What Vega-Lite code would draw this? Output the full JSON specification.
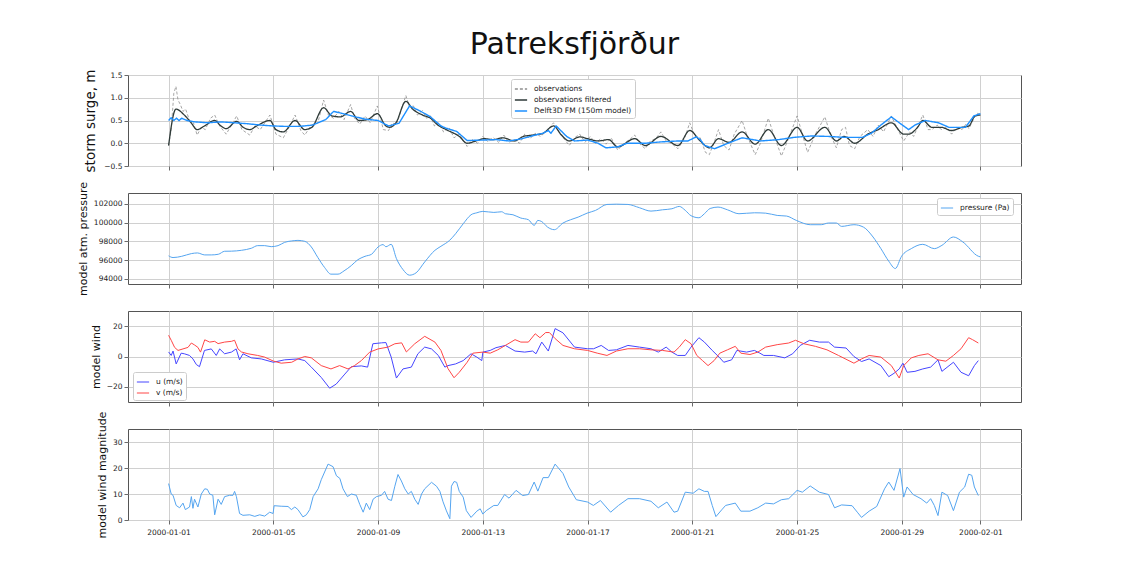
{
  "$schema": "https://vega.github.io/schema/vega-lite/v6.json",
  "background": "white",
  "padding": {"left": 76, "top": 29, "right": 20, "bottom": 10},
  "title": {"text": "Patreksfjörður", "fontSize": 30, "fontWeight": "normal", "font": "DejaVu Sans", "color": "#111111", "anchor": "middle", "frame": "group", "offset": 9},
  "spacing": 27,
  "bounds": "flush",
  "resolve": {"scale": {"color": "independent", "strokeDash": "independent"}, "legend": {"color": "independent", "strokeDash": "independent"}},
  "config": {
    "font": "DejaVu Sans",
    "view": {"stroke": "#555555", "strokeWidth": 1},
    "axis": {"domain": false, "grid": true, "gridColor": "#d0d0d0", "gridWidth": 1, "tickColor": "#444444", "tickSize": 4, "tickWidth": 0.8, "labelFont": "DejaVu Sans", "labelFontSize": 7.5, "labelColor": "#222222", "labelPadding": 2, "labelOverlap": false, "titleFont": "DejaVu Sans", "titleFontWeight": "normal", "titleFontSize": 11, "titleColor": "#111111", "titlePadding": 5},
    "legend": {"labelFont": "DejaVu Sans", "labelFontSize": 7.5, "labelColor": "#222222", "symbolType": "stroke", "symbolSize": 150, "fillColor": "white", "strokeColor": "#cccccc", "padding": 3, "cornerRadius": 2, "rowPadding": 0, "labelOffset": 6, "symbolStrokeWidth": 1.3}
  },
  "datasets": {
    "obs": [
      {"day":0,"value":-0.05},{"day":0.1,"value":0.3},{"day":0.2,"value":1.1},{"day":0.28,"value":1.25},{"day":0.36,"value":0.95},{"day":0.45,"value":0.85},{"day":0.55,"value":0.7},{"day":0.65,"value":0.75},{"day":0.8,"value":0.5},{"day":0.95,"value":0.45},{"day":1.09,"value":0.18},{"day":1.25,"value":0.35},{"day":1.4,"value":0.3},{"day":1.6,"value":0.55},{"day":1.76,"value":0.62},{"day":1.95,"value":0.38},{"day":2.2,"value":0.2},{"day":2.4,"value":0.4},{"day":2.6,"value":0.6},{"day":2.8,"value":0.3},{"day":3.1,"value":0.18},{"day":3.3,"value":0.38},{"day":3.5,"value":0.3},{"day":3.87,"value":0.62},{"day":4.1,"value":0.2},{"day":4.38,"value":0.12},{"day":4.6,"value":0.35},{"day":4.83,"value":0.62},{"day":5.05,"value":0.28},{"day":5.2,"value":0.18},{"day":5.45,"value":0.4},{"day":5.7,"value":0.45},{"day":5.92,"value":0.95},{"day":6.1,"value":0.62},{"day":6.3,"value":0.55},{"day":6.5,"value":0.7},{"day":6.7,"value":0.52},{"day":6.95,"value":0.85},{"day":7.1,"value":0.55},{"day":7.3,"value":0.42},{"day":7.5,"value":0.6},{"day":7.7,"value":0.45},{"day":7.97,"value":0.82},{"day":8.2,"value":0.3},{"day":8.4,"value":0.28},{"day":8.55,"value":0.45},{"day":8.7,"value":0.4},{"day":9.06,"value":1.05},{"day":9.2,"value":0.8},{"day":9.35,"value":0.82},{"day":9.5,"value":0.62},{"day":9.7,"value":0.72},{"day":9.85,"value":0.55},{"day":10.0,"value":0.6},{"day":10.15,"value":0.38},{"day":10.3,"value":0.45},{"day":10.5,"value":0.25},{"day":10.7,"value":0.35},{"day":10.9,"value":0.12},{"day":11.1,"value":0.2},{"day":11.4,"value":-0.07},{"day":11.6,"value":0.08},{"day":11.8,"value":0.0},{"day":12.0,"value":0.15},{"day":12.2,"value":0.03},{"day":12.4,"value":0.12},{"day":12.6,"value":0.02},{"day":12.8,"value":0.18},{"day":13.0,"value":0.02},{"day":13.2,"value":0.08},{"day":13.4,"value":0.0},{"day":13.6,"value":0.2},{"day":13.8,"value":0.1},{"day":14.0,"value":0.22},{"day":14.2,"value":0.15},{"day":14.4,"value":0.25},{"day":14.7,"value":0.45},{"day":14.85,"value":0.3},{"day":15.1,"value":0.1},{"day":15.3,"value":-0.05},{"day":15.5,"value":0.12},{"day":15.7,"value":0.2},{"day":15.9,"value":0.02},{"day":16.1,"value":0.15},{"day":16.3,"value":0.0},{"day":16.5,"value":0.1},{"day":16.7,"value":-0.02},{"day":16.9,"value":0.12},{"day":17.15,"value":-0.15},{"day":17.4,"value":0.0},{"day":17.6,"value":0.08},{"day":17.8,"value":0.18},{"day":18.0,"value":-0.02},{"day":18.2,"value":-0.12},{"day":18.4,"value":0.05},{"day":18.6,"value":0.1},{"day":18.8,"value":0.25},{"day":19.0,"value":0.05},{"day":19.2,"value":0.0},{"day":19.45,"value":-0.12},{"day":19.7,"value":0.1},{"day":19.9,"value":0.45},{"day":20.1,"value":0.15},{"day":20.3,"value":0.12},{"day":20.5,"value":-0.2},{"day":20.65,"value":-0.25},{"day":20.85,"value":0.05},{"day":21.0,"value":0.3},{"day":21.2,"value":-0.05},{"day":21.4,"value":-0.15},{"day":21.6,"value":0.2},{"day":21.9,"value":0.5},{"day":22.1,"value":0.15},{"day":22.4,"value":-0.25},{"day":22.6,"value":0.0},{"day":22.9,"value":0.55},{"day":23.1,"value":0.2},{"day":23.4,"value":-0.28},{"day":23.6,"value":0.0},{"day":24.0,"value":0.6},{"day":24.2,"value":0.2},{"day":24.4,"value":-0.2},{"day":24.7,"value":0.2},{"day":25.06,"value":0.58},{"day":25.3,"value":0.15},{"day":25.5,"value":-0.1},{"day":25.7,"value":0.3},{"day":25.85,"value":0.35},{"day":26.0,"value":-0.05},{"day":26.2,"value":-0.12},{"day":26.4,"value":0.15},{"day":26.7,"value":0.3},{"day":26.9,"value":0.15},{"day":27.1,"value":0.4},{"day":27.3,"value":0.25},{"day":27.6,"value":0.6},{"day":27.8,"value":0.35},{"day":28.07,"value":0.05},{"day":28.3,"value":0.25},{"day":28.45,"value":0.15},{"day":28.6,"value":0.35},{"day":28.8,"value":0.62},{"day":29.0,"value":0.3},{"day":29.15,"value":0.3},{"day":29.35,"value":0.4},{"day":29.5,"value":0.3},{"day":29.7,"value":0.35},{"day":29.9,"value":0.2},{"day":30.1,"value":0.35},{"day":30.3,"value":0.3},{"day":30.45,"value":0.42},{"day":30.56,"value":0.32},{"day":30.8,"value":0.6},{"day":30.9,"value":0.66},{"day":31.0,"value":0.62}
    ],
    "filt": [
      {"day":0,"value":-0.05},{"day":0.28,"value":0.75},{"day":0.6,"value":0.62},{"day":0.86,"value":0.45},{"day":1.09,"value":0.3},{"day":1.37,"value":0.38},{"day":1.76,"value":0.5},{"day":2.0,"value":0.38},{"day":2.2,"value":0.32},{"day":2.6,"value":0.48},{"day":2.85,"value":0.35},{"day":3.1,"value":0.3},{"day":3.36,"value":0.38},{"day":3.87,"value":0.5},{"day":4.1,"value":0.3},{"day":4.38,"value":0.25},{"day":4.83,"value":0.5},{"day":5.2,"value":0.3},{"day":5.47,"value":0.35},{"day":5.92,"value":0.78},{"day":6.24,"value":0.6},{"day":6.56,"value":0.58},{"day":6.95,"value":0.7},{"day":7.27,"value":0.5},{"day":7.6,"value":0.52},{"day":7.97,"value":0.65},{"day":8.3,"value":0.38},{"day":8.45,"value":0.35},{"day":8.68,"value":0.45},{"day":9.06,"value":0.92},{"day":9.32,"value":0.75},{"day":9.7,"value":0.62},{"day":10.0,"value":0.55},{"day":10.28,"value":0.4},{"day":10.6,"value":0.3},{"day":11.1,"value":0.15},{"day":11.4,"value":0.0},{"day":11.73,"value":0.05},{"day":12.05,"value":0.1},{"day":12.4,"value":0.08},{"day":12.78,"value":0.12},{"day":13.2,"value":0.05},{"day":13.55,"value":0.15},{"day":13.9,"value":0.18},{"day":14.3,"value":0.22},{"day":14.7,"value":0.38},{"day":15.0,"value":0.18},{"day":15.3,"value":0.05},{"day":15.7,"value":0.14},{"day":16.0,"value":0.1},{"day":16.4,"value":0.05},{"day":16.8,"value":0.08},{"day":17.15,"value":-0.08},{"day":17.8,"value":0.1},{"day":18.2,"value":-0.05},{"day":18.8,"value":0.15},{"day":19.45,"value":-0.05},{"day":19.9,"value":0.28},{"day":20.3,"value":0.05},{"day":20.65,"value":-0.1},{"day":21.0,"value":0.1},{"day":21.4,"value":0.02},{"day":21.9,"value":0.25},{"day":22.4,"value":-0.02},{"day":22.9,"value":0.3},{"day":23.4,"value":-0.05},{"day":24.0,"value":0.35},{"day":24.4,"value":0.05},{"day":25.06,"value":0.35},{"day":25.5,"value":0.05},{"day":25.8,"value":0.15},{"day":26.2,"value":0.0},{"day":26.7,"value":0.2},{"day":27.1,"value":0.3},{"day":27.6,"value":0.45},{"day":28.07,"value":0.2},{"day":28.26,"value":0.2},{"day":28.6,"value":0.35},{"day":28.8,"value":0.5},{"day":29.15,"value":0.35},{"day":29.5,"value":0.35},{"day":29.9,"value":0.28},{"day":30.3,"value":0.35},{"day":30.56,"value":0.38},{"day":30.8,"value":0.6},{"day":31.0,"value":0.62}
    ],
    "model": [
      {"day":0,"value":0.5},{"day":0.1,"value":0.56},{"day":0.2,"value":0.5},{"day":0.3,"value":0.55},{"day":0.4,"value":0.5},{"day":0.5,"value":0.55},{"day":0.7,"value":0.5},{"day":1.0,"value":0.47},{"day":1.5,"value":0.45},{"day":2.0,"value":0.47},{"day":2.5,"value":0.45},{"day":3.0,"value":0.43},{"day":3.5,"value":0.4},{"day":4.0,"value":0.38},{"day":4.5,"value":0.37},{"day":5.0,"value":0.37},{"day":5.5,"value":0.4},{"day":6.0,"value":0.52},{"day":6.3,"value":0.7},{"day":6.6,"value":0.66},{"day":7.0,"value":0.6},{"day":7.5,"value":0.53},{"day":8.0,"value":0.5},{"day":8.4,"value":0.38},{"day":8.8,"value":0.44},{"day":9.2,"value":0.82},{"day":9.6,"value":0.71},{"day":10.0,"value":0.58},{"day":10.4,"value":0.38},{"day":10.6,"value":0.33},{"day":11.0,"value":0.26},{"day":11.4,"value":0.06},{"day":12.0,"value":0.07},{"day":12.5,"value":0.08},{"day":13.0,"value":0.05},{"day":13.5,"value":0.1},{"day":14.0,"value":0.18},{"day":14.3,"value":0.22},{"day":14.5,"value":0.28},{"day":14.6,"value":0.22},{"day":14.8,"value":0.38},{"day":15.2,"value":0.15},{"day":15.5,"value":0.05},{"day":16.0,"value":0.07},{"day":16.4,"value":0.0},{"day":16.7,"value":-0.1},{"day":17.15,"value":-0.08},{"day":17.5,"value":0.0},{"day":18.2,"value":0.0},{"day":18.8,"value":0.03},{"day":19.45,"value":0.05},{"day":19.83,"value":0.05},{"day":20.15,"value":0.14},{"day":20.3,"value":0.08},{"day":20.47,"value":-0.05},{"day":20.85,"value":-0.12},{"day":21.36,"value":0.0},{"day":21.9,"value":0.12},{"day":22.6,"value":0.05},{"day":23.3,"value":0.08},{"day":23.9,"value":0.13},{"day":24.55,"value":0.16},{"day":25.2,"value":0.15},{"day":25.8,"value":0.13},{"day":26.5,"value":0.13},{"day":26.84,"value":0.22},{"day":27.2,"value":0.4},{"day":27.6,"value":0.58},{"day":27.9,"value":0.45},{"day":28.26,"value":0.3},{"day":28.5,"value":0.4},{"day":28.9,"value":0.5},{"day":29.4,"value":0.45},{"day":29.8,"value":0.35},{"day":30.43,"value":0.35},{"day":30.75,"value":0.6},{"day":31.0,"value":0.65}
    ],
    "pressure": [
      {"day":0,"value":96450},{"day":0.17,"value":96270},{"day":0.5,"value":96400},{"day":0.87,"value":96690},{"day":1.1,"value":96760},{"day":1.38,"value":96550},{"day":1.63,"value":96550},{"day":1.9,"value":96620},{"day":2.14,"value":96940},{"day":2.4,"value":96950},{"day":2.78,"value":97040},{"day":3.16,"value":97260},{"day":3.4,"value":97540},{"day":3.67,"value":97540},{"day":3.92,"value":97430},{"day":4.18,"value":97540},{"day":4.43,"value":97890},{"day":4.7,"value":98040},{"day":4.94,"value":98100},{"day":5.2,"value":98000},{"day":5.45,"value":97400},{"day":5.7,"value":96270},{"day":5.96,"value":95200},{"day":6.2,"value":94500},{"day":6.47,"value":94500},{"day":6.7,"value":94850},{"day":6.98,"value":95420},{"day":7.2,"value":95980},{"day":7.5,"value":96400},{"day":7.75,"value":96620},{"day":8.0,"value":97400},{"day":8.19,"value":97650},{"day":8.3,"value":97420},{"day":8.5,"value":97680},{"day":8.7,"value":96160},{"day":8.95,"value":94990},{"day":9.2,"value":94390},{"day":9.45,"value":94640},{"day":9.78,"value":95800},{"day":10.17,"value":97040},{"day":10.4,"value":97470},{"day":10.73,"value":98100},{"day":10.96,"value":98810},{"day":11.25,"value":99870},{"day":11.55,"value":100830},{"day":11.77,"value":101040},{"day":12.0,"value":101190},{"day":12.42,"value":101080},{"day":12.72,"value":101150},{"day":12.86,"value":100940},{"day":13.15,"value":100830},{"day":13.45,"value":100480},{"day":13.74,"value":100300},{"day":13.96,"value":99700},{"day":14.1,"value":100230},{"day":14.25,"value":100100},{"day":14.47,"value":99520},{"day":14.73,"value":99240},{"day":15.06,"value":99950},{"day":15.35,"value":100300},{"day":15.64,"value":100580},{"day":15.98,"value":101000},{"day":16.3,"value":101290},{"day":16.74,"value":101930},{"day":17.1,"value":101960},{"day":17.54,"value":101930},{"day":17.98,"value":101580},{"day":18.42,"value":101220},{"day":18.86,"value":101360},{"day":19.22,"value":101470},{"day":19.5,"value":101720},{"day":19.73,"value":101300},{"day":19.95,"value":100730},{"day":20.25,"value":100510},{"day":20.46,"value":100940},{"day":20.68,"value":101500},{"day":20.98,"value":101650},{"day":21.34,"value":101360},{"day":21.78,"value":100940},{"day":22.37,"value":101040},{"day":22.8,"value":101000},{"day":23.24,"value":100760},{"day":23.6,"value":100690},{"day":23.97,"value":100230},{"day":24.5,"value":99770},{"day":24.92,"value":99770},{"day":25.2,"value":99950},{"day":25.5,"value":99950},{"day":25.7,"value":99590},{"day":26.17,"value":99770},{"day":26.53,"value":99520},{"day":26.9,"value":98460},{"day":27.2,"value":97220},{"day":27.5,"value":95880},{"day":27.75,"value":95100},{"day":27.99,"value":96410},{"day":28.36,"value":97220},{"day":28.8,"value":97680},{"day":29.24,"value":97220},{"day":29.53,"value":97570},{"day":29.97,"value":98460},{"day":30.33,"value":97930},{"day":30.92,"value":96410},{"day":31.0,"value":96340}
    ],
    "u": [
      {"day":0,"value":3},{"day":0.1,"value":0.7},{"day":0.17,"value":3.6},{"day":0.29,"value":-4.9},{"day":0.48,"value":2.2},{"day":0.6,"value":1.8},{"day":0.8,"value":0.7},{"day":0.93,"value":-1.6},{"day":1.06,"value":-5.3},{"day":1.18,"value":-6.7},{"day":1.37,"value":4},{"day":1.63,"value":5},{"day":1.82,"value":0.7},{"day":1.95,"value":5},{"day":2.14,"value":1.8},{"day":2.4,"value":2.9},{"day":2.58,"value":5},{"day":2.71,"value":-2.2},{"day":2.84,"value":1.8},{"day":3.16,"value":-0.9},{"day":3.54,"value":-1.6},{"day":4.0,"value":-3.8},{"day":4.43,"value":-2.2},{"day":4.94,"value":-1.6},{"day":5.2,"value":-2.7},{"day":5.45,"value":-7},{"day":5.83,"value":-13.8},{"day":6.15,"value":-20.9},{"day":6.4,"value":-18.2},{"day":6.73,"value":-11.6},{"day":6.98,"value":-6.7},{"day":7.36,"value":-6.2},{"day":7.6,"value":-7},{"day":7.8,"value":8.4},{"day":8.13,"value":9},{"day":8.3,"value":9.2},{"day":8.5,"value":-0.4},{"day":8.7,"value":-14.2},{"day":8.95,"value":-8.2},{"day":9.27,"value":-7},{"day":9.52,"value":1.8},{"day":9.78,"value":6.2},{"day":10.04,"value":5},{"day":10.3,"value":0.7},{"day":10.55,"value":-7},{"day":10.67,"value":-6},{"day":10.96,"value":-4.9},{"day":11.25,"value":-2.7},{"day":11.55,"value":1.8},{"day":11.77,"value":-0.4},{"day":11.96,"value":-2.7},{"day":12.0,"value":2.9},{"day":12.28,"value":4},{"day":12.5,"value":5.8},{"day":12.86,"value":7.3},{"day":13.23,"value":3.6},{"day":13.6,"value":2.9},{"day":13.9,"value":3.6},{"day":14.03,"value":1.8},{"day":14.25,"value":9.5},{"day":14.5,"value":3.6},{"day":14.76,"value":18.4},{"day":15.06,"value":15.6},{"day":15.5,"value":6.2},{"day":16.0,"value":5.1},{"day":16.23,"value":5.1},{"day":16.52,"value":7.3},{"day":16.8,"value":4},{"day":17.1,"value":4.4},{"day":17.54,"value":7.3},{"day":17.98,"value":6.2},{"day":18.42,"value":5.1},{"day":18.7,"value":2.9},{"day":19.0,"value":6.2},{"day":19.22,"value":2.9},{"day":19.44,"value":0.7},{"day":19.73,"value":0.7},{"day":19.95,"value":6.2},{"day":20.25,"value":12.4},{"day":20.46,"value":9.5},{"day":20.76,"value":4},{"day":21.05,"value":-0.9},{"day":21.2,"value":-3.8},{"day":21.5,"value":-2.2},{"day":21.7,"value":4},{"day":22.07,"value":2.9},{"day":22.37,"value":4},{"day":22.58,"value":2.2},{"day":22.73,"value":0.7},{"day":23.1,"value":0.7},{"day":23.53,"value":-0.9},{"day":23.83,"value":1.8},{"day":24.12,"value":7.3},{"day":24.48,"value":10.7},{"day":24.85,"value":9.5},{"day":25.2,"value":9.5},{"day":25.43,"value":6.2},{"day":25.87,"value":5.6},{"day":26.17,"value":0},{"day":26.46,"value":-3.3},{"day":26.75,"value":-1.6},{"day":27.2,"value":-6},{"day":27.5,"value":-13.3},{"day":27.7,"value":-11.1},{"day":27.9,"value":-8.2},{"day":28.04,"value":-4.4},{"day":28.2,"value":-10.4},{"day":28.5,"value":-9.8},{"day":28.8,"value":-8.2},{"day":29.1,"value":-7},{"day":29.38,"value":-2.2},{"day":29.53,"value":-9.8},{"day":29.97,"value":-3.8},{"day":30.26,"value":-10.4},{"day":30.55,"value":-12.7},{"day":30.77,"value":-6},{"day":30.92,"value":-2.7}
    ],
    "v": [
      {"day":0,"value":14},{"day":0.1,"value":10.7},{"day":0.23,"value":6},{"day":0.36,"value":4},{"day":0.55,"value":5},{"day":0.74,"value":6},{"day":0.87,"value":8.9},{"day":1.0,"value":7.5},{"day":1.12,"value":6},{"day":1.22,"value":2.9},{"day":1.38,"value":11},{"day":1.57,"value":9.5},{"day":1.76,"value":10},{"day":1.89,"value":8.5},{"day":2.14,"value":9.5},{"day":2.4,"value":10},{"day":2.52,"value":10.7},{"day":2.65,"value":5},{"day":2.78,"value":3},{"day":3.03,"value":1.8},{"day":3.4,"value":0.7},{"day":3.67,"value":-0.4},{"day":4.0,"value":-3},{"day":4.3,"value":-4.4},{"day":4.7,"value":-3.8},{"day":4.94,"value":-1.6},{"day":5.2,"value":0},{"day":5.45,"value":-0.9},{"day":5.83,"value":-6},{"day":6.2,"value":-8.2},{"day":6.53,"value":-6},{"day":6.85,"value":-8.2},{"day":7.1,"value":-6},{"day":7.36,"value":-2.7},{"day":7.68,"value":2.9},{"day":8.0,"value":5},{"day":8.38,"value":6.2},{"day":8.64,"value":8.4},{"day":8.9,"value":9},{"day":9.08,"value":3},{"day":9.4,"value":8.4},{"day":9.78,"value":13.3},{"day":10.17,"value":9.5},{"day":10.4,"value":4},{"day":10.67,"value":-8},{"day":10.9,"value":-14},{"day":11.1,"value":-10.4},{"day":11.4,"value":-3.8},{"day":11.62,"value":2.2},{"day":12.0,"value":2.9},{"day":12.28,"value":2.2},{"day":12.57,"value":4.4},{"day":12.86,"value":7.3},{"day":13.23,"value":11.1},{"day":13.45,"value":9.5},{"day":13.74,"value":9.5},{"day":14.0,"value":15},{"day":14.18,"value":12.4},{"day":14.4,"value":15.8},{"day":14.54,"value":15.8},{"day":14.76,"value":11.8},{"day":15.06,"value":7.3},{"day":15.5,"value":5.1},{"day":16.0,"value":4},{"day":16.37,"value":2.2},{"day":16.74,"value":0.7},{"day":17.1,"value":3.6},{"day":17.54,"value":5.1},{"day":17.98,"value":5.1},{"day":18.42,"value":4.4},{"day":18.86,"value":4},{"day":19.3,"value":2.9},{"day":19.5,"value":6.2},{"day":19.73,"value":11.1},{"day":19.95,"value":8.4},{"day":20.17,"value":0.7},{"day":20.39,"value":-2.7},{"day":20.6,"value":-6},{"day":20.83,"value":-2.7},{"day":21.05,"value":2.2},{"day":21.34,"value":4.4},{"day":21.64,"value":6.7},{"day":21.85,"value":2.2},{"day":22.2,"value":1.3},{"day":22.5,"value":2.9},{"day":22.8,"value":6.2},{"day":23.24,"value":7.8},{"day":23.68,"value":8.9},{"day":23.94,"value":10.7},{"day":24.26,"value":8.4},{"day":24.7,"value":6.7},{"day":25.14,"value":4.4},{"day":25.58,"value":0.7},{"day":26.17,"value":-4.4},{"day":26.46,"value":-1.6},{"day":26.75,"value":0.7},{"day":27.2,"value":-0.4},{"day":27.6,"value":-6},{"day":27.9,"value":-14.2},{"day":28.07,"value":-6},{"day":28.36,"value":-0.9},{"day":28.65,"value":0.7},{"day":29.0,"value":1.8},{"day":29.38,"value":-2.2},{"day":29.68,"value":-3.1},{"day":29.97,"value":0.7},{"day":30.26,"value":5.1},{"day":30.55,"value":12.4},{"day":30.7,"value":11.1},{"day":30.92,"value":8.9}
    ],
    "mag": [
      {"day":0,"value":14},{"day":0.1,"value":10},{"day":0.17,"value":9.5},{"day":0.29,"value":5.6},{"day":0.42,"value":4.7},{"day":0.55,"value":6.5},{"day":0.64,"value":4},{"day":0.8,"value":5},{"day":0.87,"value":9},{"day":0.93,"value":4.5},{"day":0.99,"value":8},{"day":1.12,"value":5},{"day":1.25,"value":10},{"day":1.38,"value":12},{"day":1.48,"value":11.8},{"day":1.57,"value":10},{"day":1.69,"value":9.5},{"day":1.76,"value":2},{"day":1.89,"value":8},{"day":2.01,"value":6},{"day":2.14,"value":9},{"day":2.33,"value":9.5},{"day":2.46,"value":9.5},{"day":2.52,"value":11},{"day":2.59,"value":9},{"day":2.71,"value":2.5},{"day":2.84,"value":1.8},{"day":3.1,"value":2},{"day":3.29,"value":1.4},{"day":3.48,"value":2},{"day":3.67,"value":1.5},{"day":3.86,"value":3},{"day":3.99,"value":2.5},{"day":4.03,"value":5.5},{"day":4.3,"value":5.3},{"day":4.56,"value":5.2},{"day":4.69,"value":4},{"day":4.82,"value":5},{"day":4.94,"value":4},{"day":5.13,"value":1.2},{"day":5.26,"value":2},{"day":5.39,"value":4},{"day":5.52,"value":9},{"day":5.71,"value":12},{"day":5.83,"value":15.5},{"day":6.09,"value":21.5},{"day":6.28,"value":20.5},{"day":6.41,"value":17},{"day":6.54,"value":16},{"day":6.66,"value":12},{"day":6.83,"value":9},{"day":6.98,"value":10},{"day":7.17,"value":9.5},{"day":7.3,"value":6},{"day":7.43,"value":3},{"day":7.55,"value":6.5},{"day":7.68,"value":4},{"day":7.81,"value":8},{"day":7.94,"value":9},{"day":8.13,"value":9.5},{"day":8.25,"value":11},{"day":8.38,"value":8},{"day":8.51,"value":7.5},{"day":8.64,"value":13},{"day":8.76,"value":17.5},{"day":8.89,"value":15},{"day":9.02,"value":12},{"day":9.15,"value":10},{"day":9.27,"value":11},{"day":9.4,"value":8},{"day":9.53,"value":6},{"day":9.66,"value":10},{"day":9.78,"value":12},{"day":10.04,"value":14.5},{"day":10.23,"value":13},{"day":10.36,"value":11},{"day":10.48,"value":7},{"day":10.61,"value":3.5},{"day":10.74,"value":0.5},{"day":10.8,"value":13},{"day":10.9,"value":14.8},{"day":11.0,"value":14.5},{"day":11.1,"value":11},{"day":11.25,"value":8.8},{"day":11.37,"value":3.6},{"day":11.55,"value":1},{"day":11.77,"value":3.4},{"day":11.9,"value":4.3},{"day":12.0,"value":2.3},{"day":12.13,"value":3.6},{"day":12.42,"value":5.6},{"day":12.57,"value":5.6},{"day":12.83,"value":9.8},{"day":13.0,"value":8.4},{"day":13.27,"value":11.4},{"day":13.52,"value":9.4},{"day":13.74,"value":9.8},{"day":13.96,"value":14.6},{"day":14.1,"value":11.1},{"day":14.3,"value":16.3},{"day":14.5,"value":16.3},{"day":14.76,"value":21.5},{"day":15.06,"value":17.9},{"day":15.28,"value":12.7},{"day":15.57,"value":7.8},{"day":16.0,"value":6.9},{"day":16.22,"value":5.6},{"day":16.49,"value":7.5},{"day":16.88,"value":3},{"day":17.18,"value":5.6},{"day":17.54,"value":8.2},{"day":17.98,"value":8.2},{"day":18.42,"value":7.2},{"day":18.7,"value":4.7},{"day":19.03,"value":6.9},{"day":19.3,"value":3},{"day":19.44,"value":3.4},{"day":19.73,"value":10.7},{"day":20.03,"value":10.3},{"day":20.25,"value":12},{"day":20.46,"value":11},{"day":20.6,"value":11},{"day":20.76,"value":5.6},{"day":20.9,"value":1.3},{"day":21.12,"value":3.9},{"day":21.27,"value":5.6},{"day":21.64,"value":6.5},{"day":21.85,"value":3.4},{"day":22.2,"value":3.4},{"day":22.5,"value":4.7},{"day":22.8,"value":6.5},{"day":23.1,"value":6.2},{"day":23.4,"value":7.8},{"day":23.68,"value":8.2},{"day":24.0,"value":11.4},{"day":24.2,"value":10.7},{"day":24.5,"value":13.1},{"day":24.85,"value":10.7},{"day":25.2,"value":9.8},{"day":25.43,"value":4.7},{"day":25.7,"value":5.8},{"day":26.1,"value":5.5},{"day":26.3,"value":3},{"day":26.46,"value":1},{"day":26.75,"value":3.4},{"day":27.04,"value":5.2},{"day":27.34,"value":12},{"day":27.5,"value":14.6},{"day":27.7,"value":11.4},{"day":27.93,"value":19.8},{"day":28.07,"value":8.8},{"day":28.2,"value":12.7},{"day":28.43,"value":9.8},{"day":28.73,"value":8.2},{"day":28.95,"value":6.5},{"day":29.1,"value":8.2},{"day":29.24,"value":5.6},{"day":29.38,"value":1.7},{"day":29.53,"value":10.7},{"day":29.75,"value":9.4},{"day":29.97,"value":3.6},{"day":30.2,"value":10.7},{"day":30.4,"value":12.7},{"day":30.55,"value":17.6},{"day":30.67,"value":17.2},{"day":30.77,"value":12.7},{"day":30.92,"value":9.4}
    ]
  },
  "vconcat": [
    {
      "width": 893, "height": 91,
      "encoding": {
        "x": {"field": "day", "type": "quantitative", "scale": {"domain": [-1.55, 32.55], "nice": false, "zero": false}, "axis": {"values": [0,4,8,12,16,20,24,28,31], "labels": false, "title": null}},
        "y": {"field": "value", "type": "quantitative", "scale": {"domain": [-0.5, 1.5], "nice": false, "zero": false}, "axis": {"values": [-0.5,0,0.5,1,1.5], "format": ".1f", "labelOverlap": false, "title": "storm surge, m", "titleFontSize": 13.5, "titlePadding": 6}}
      },
      "layer": [
        {
          "data": {"name": "obs"},
          "mark": {"type": "line", "strokeWidth": 0.8, "clip": true},
          "encoding": {
            "color": {"datum": "observations", "scale": {"domain": ["observations","observations filtered","Delft3D FM (150m model)"], "range": ["#8f8f8f","#2e3a38","#1e90ff"]}, "legend": {"title": null, "orient": "none", "legendX": 383, "legendY": 4}},
            "strokeDash": {"datum": "observations", "scale": {"domain": ["observations","observations filtered","Delft3D FM (150m model)"], "range": [[3,2],[1,0],[1,0]]}, "legend": {"title": null, "orient": "none", "legendX": 383, "legendY": 4}}
          }
        },
        {
          "data": {"name": "filt"},
          "mark": {"type": "line", "strokeWidth": 1.3, "interpolate": "monotone", "clip": true},
          "encoding": {
            "color": {"datum": "observations filtered"},
            "strokeDash": {"datum": "observations filtered"}
          }
        },
        {
          "data": {"name": "model"},
          "mark": {"type": "line", "strokeWidth": 1.4, "clip": true},
          "encoding": {
            "color": {"datum": "Delft3D FM (150m model)"},
            "strokeDash": {"datum": "Delft3D FM (150m model)"}
          }
        }
      ]
    },
    {
      "width": 893, "height": 91,
      "data": {"name": "pressure"},
      "mark": {"type": "line", "strokeWidth": 1, "interpolate": "monotone", "clip": true},
      "encoding": {
        "x": {"field": "day", "type": "quantitative", "scale": {"domain": [-1.55, 32.55], "nice": false, "zero": false}, "axis": {"values": [0,4,8,12,16,20,24,28,31], "labels": false, "title": null}},
        "y": {"field": "value", "type": "quantitative", "scale": {"domain": [93450, 103150], "nice": false, "zero": false}, "axis": {"values": [94000,96000,98000,100000,102000], "format": "d", "title": "model atm. pressure"}},
        "color": {"datum": "pressure (Pa)", "scale": {"domain": ["pressure (Pa)"], "range": ["#55a5f0"]}, "legend": {"title": null, "orient": "none", "legendX": 809, "legendY": 5, "symbolStrokeWidth": 1}}
      }
    },
    {
      "width": 893, "height": 91,
      "encoding": {
        "x": {"field": "day", "type": "quantitative", "scale": {"domain": [-1.55, 32.55], "nice": false, "zero": false}, "axis": {"values": [0,4,8,12,16,20,24,28,31], "labels": false, "title": null}},
        "y": {"field": "value", "type": "quantitative", "scale": {"domain": [-30, 30], "nice": false, "zero": false}, "axis": {"values": [-20,0,20], "title": "model wind"}}
      },
      "layer": [
        {
          "data": {"name": "u"},
          "mark": {"type": "line", "strokeWidth": 1, "clip": true},
          "encoding": {
            "color": {"datum": "u (m/s)", "scale": {"domain": ["u (m/s)","v (m/s)"], "range": ["#4646ff","#ff4646"]}, "legend": {"title": null, "orient": "none", "legendX": 5, "legendY": 61, "symbolStrokeWidth": 1}}
          }
        },
        {
          "data": {"name": "v"},
          "mark": {"type": "line", "strokeWidth": 1, "clip": true},
          "encoding": {
            "color": {"datum": "v (m/s)"}
          }
        }
      ]
    },
    {
      "width": 893, "height": 91,
      "data": {"name": "mag"},
      "mark": {"type": "line", "strokeWidth": 1, "color": "#55a5f0", "clip": true},
      "encoding": {
        "x": {"field": "day", "type": "quantitative", "scale": {"domain": [-1.55, 32.55], "nice": false, "zero": false}, "axis": {"values": [0,4,8,12,16,20,24,28,31], "title": null, "labelPadding": 4, "labelExpr": "timeFormat(datetime(2000, 0, 1 + datum.value), '%Y-%m-%d')"}},
        "y": {"field": "value", "type": "quantitative", "scale": {"domain": [0, 35], "nice": false, "zero": false}, "axis": {"values": [0,10,20,30], "title": "model wind magnitude"}}
      }
    }
  ]
}
